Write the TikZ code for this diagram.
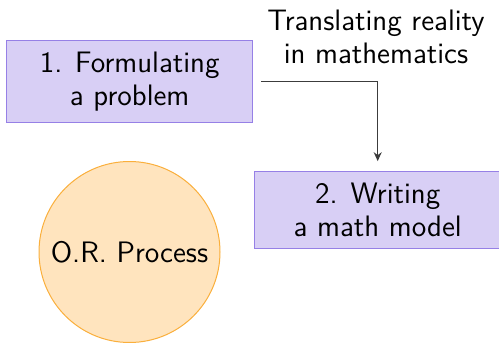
\documentclass[tikz,border=0pt]{standalone}
\usetikzlibrary{arrows.meta}
\definecolor{boxfill}{RGB}{216,207,245}
\definecolor{boxdraw}{RGB}{150,128,230}
\definecolor{circfill}{RGB}{255,228,190}
\definecolor{circdraw}{RGB}{250,175,60}
\definecolor{arrowcol}{RGB}{60,60,60}
\tikzset{
  stepbox/.style={draw=boxdraw, fill=boxfill, line width=0.5pt, minimum width=123pt,
    align=center, inner xsep=4pt, inner ysep=5.8pt},
  orcircle/.style={circle, draw=circdraw, fill=circfill, line width=0.5pt, minimum size=90.5pt, inner sep=0pt},
  conn/.style={draw=arrowcol, line width=0.65pt, -{Stealth[length=4.5pt,width=4pt]}, shorten <=4pt, shorten >=5pt},
  lbl/.style={align=center, inner sep=0pt}
}
\begin{document}
\begin{tikzpicture}[x=0.5pt,y=-0.5pt, font=\fontsize{14.8pt}{16.3pt}\sffamily]
\useasboundingbox (0,0) rectangle (499,343);
\node[stepbox] (b1) at (129.7,81.5) {1. Formulating\\a problem};
\node[stepbox] (b2) at (377.7,210) {2. Writing\\a math model};
\node[orcircle] (c) at (129.5,252) {O.R. Process};
\node[lbl, anchor=north] (t) at (376,9.5) {Translating reality\\in mathematics};
\draw[conn] (b1.east) -- (b1.east -| b2.north) -- (b2.north);
\end{tikzpicture}
\end{document}
